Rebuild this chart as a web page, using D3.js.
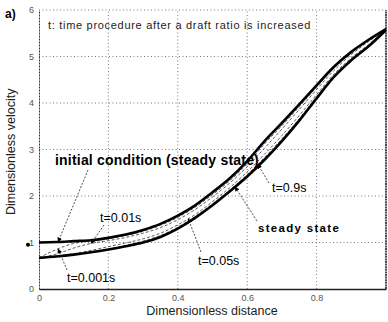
<!DOCTYPE html>
<html>
<head>
<meta charset="utf-8">
<script src="https://cdn.jsdelivr.net/npm/d3@7"></script>
<style>
  body { margin: 0; background: #fff; }
  svg { font-family: Arial, "Liberation Sans", sans-serif; }
</style>
</head>
<body>
<svg id="chart" width="388" height="322"></svg>
<script>
const distance = [0, 0.05, 0.1, 0.15, 0.2, 0.25, 0.3, 0.35, 0.4, 0.45, 0.5, 0.55, 0.6, 0.65, 0.7, 0.75, 0.8, 0.85, 0.9, 0.95, 1.0];
const initialCondition = [1.00, 1.01, 1.03, 1.05, 1.10, 1.17, 1.27, 1.40, 1.58, 1.80, 2.08, 2.38, 2.75, 3.18, 3.57, 3.97, 4.38, 4.78, 5.10, 5.36, 5.59];
const t0001 = [0.67, 0.85, 0.98, 1.03, 1.08, 1.15, 1.24, 1.37, 1.54, 1.76, 2.03, 2.33, 2.69, 3.12, 3.51, 3.92, 4.34, 4.75, 5.08, 5.34, 5.59];
const t001 = [0.67, 0.75, 0.88, 0.98, 1.04, 1.11, 1.20, 1.32, 1.49, 1.71, 1.98, 2.28, 2.63, 3.03, 3.44, 3.86, 4.29, 4.70, 5.04, 5.32, 5.58];
const t005 = [0.67, 0.71, 0.76, 0.83, 0.91, 0.99, 1.08, 1.20, 1.38, 1.60, 1.88, 2.18, 2.52, 2.90, 3.30, 3.73, 4.18, 4.62, 4.97, 5.26, 5.58];
const t09 = [0.67, 0.70, 0.75, 0.80, 0.86, 0.94, 1.03, 1.15, 1.33, 1.56, 1.83, 2.13, 2.46, 2.83, 3.23, 3.66, 4.13, 4.58, 4.94, 5.24, 5.57];
const steadyState = [0.67, 0.70, 0.74, 0.79, 0.85, 0.92, 1.00, 1.12, 1.30, 1.53, 1.80, 2.10, 2.42, 2.78, 3.18, 3.62, 4.10, 4.56, 4.92, 5.22, 5.57];
const xTicks = [0, 0.2, 0.4, 0.6, 0.8, 1.0];
const xTickLabels = ['0', '0.2', '0.4', '0.6', '0.8', ''];
const yTicks = [0, 1, 2, 3, 4, 5, 6];
const yTickLabels = ['0', '1', '2', '3', '4', '5', '6'];

const svg = d3.select('#chart');
const margin = {top: 10, right: 2, bottom: 33, left: 39};
const width = 388 - margin.left - margin.right;
const height = 322 - margin.top - margin.bottom;

const x = d3.scaleLinear().domain([0, 1]).range([margin.left, margin.left + width]);
const y = d3.scaleLinear().domain([0, 6]).range([margin.top + height, margin.top]);

// dotted grid
svg.append('g').selectAll('line').data(xTicks.slice(1, -1)).join('line')
  .attr('x1', d => x(d)).attr('x2', d => x(d))
  .attr('y1', y(0)).attr('y2', y(6))
  .attr('stroke', '#555').attr('stroke-width', 0.8).attr('stroke-dasharray', '1,2.5');
svg.append('g').selectAll('line').data(yTicks.slice(1)).join('line')
  .attr('x1', x(0)).attr('x2', x(1))
  .attr('y1', d => y(d)).attr('y2', d => y(d))
  .attr('stroke', '#555').attr('stroke-width', 0.8).attr('stroke-dasharray', '1,2.5');

const xAxis = d3.axisBottom(x).tickValues(xTicks).tickSize(0).tickPadding(6)
  .tickFormat((d, i) => xTickLabels[i]);
const yAxis = d3.axisLeft(y).tickValues(yTicks).tickSize(0).tickPadding(5)
  .tickFormat((d, i) => yTickLabels[i]);

let gx = svg.append('g').attr('transform', 'translate(0,' + y(0) + ')').call(xAxis);
let gy = svg.append('g').attr('transform', 'translate(' + x(0) + ',0)').call(yAxis);
gx.select('.domain').attr('stroke', '#222').attr('stroke-width', 1.4);
gy.select('.domain').attr('stroke', '#333').attr('stroke-width', 1).attr('stroke-dasharray', '2,1');
gx.selectAll('text').attr('font-size', 9).attr('fill', '#555');
gy.selectAll('text').attr('font-size', 9).attr('fill', '#555');

// right border
svg.append('line')
  .attr('x1', x(1)).attr('x2', x(1)).attr('y1', y(0)).attr('y2', y(6))
  .attr('stroke', '#222').attr('stroke-width', 1.6).attr('stroke-dasharray', '2,0.6');

const line = d3.line().x((d, i) => x(distance[i])).y(d => y(d)).curve(d3.curveMonotoneX);

const thin = [t0001, t001, t005, t09];
svg.append('g').selectAll('path').data(thin).join('path')
  .attr('d', line)
  .attr('fill', 'none').attr('stroke', '#333').attr('stroke-width', 0.8)
  .attr('stroke-dasharray', '3,2');

svg.append('g').selectAll('path').data([initialCondition, steadyState]).join('path')
  .attr('d', line)
  .attr('fill', 'none').attr('stroke', '#000').attr('stroke-width', 2.6);

function valueAt(series, xv) {
  let i = d3.bisectLeft(distance, xv);
  if (i <= 0) return series[0];
  let t = (xv - distance[i - 1]) / (distance[i] - distance[i - 1]);
  return series[i - 1] + t * (series[i] - series[i - 1]);
}

const notes = [
  {text: 'initial condition (steady state)', series: initialCondition, at: 0.055, tx: 55, ty: 165, fx: 88, fy: 170, weight: 'bold', size: 14, spacing: 0.2},
  {text: 't=0.01s', series: t001, at: 0.15, tx: 100, ty: 222, fx: 104, fy: 225, weight: 'normal', size: 12.5, spacing: 0},
  {text: 't=0.001s', series: t0001, at: 0.055, tx: 67, ty: 282, fx: 67, fy: 270, weight: 'normal', size: 12.5, spacing: 0},
  {text: 't=0.05s', series: t005, at: 0.43, tx: 198, ty: 265, fx: 201, fy: 252, weight: 'normal', size: 12.5, spacing: 0},
  {text: 't=0.9s', series: t09, at: 0.63, tx: 272, ty: 192, fx: 269, fy: 183, weight: 'normal', size: 12.5, spacing: 0},
  {text: 'steady state', series: steadyState, at: 0.565, tx: 258, ty: 232, fx: 257, fy: 221, weight: 'bold', size: 11.5, spacing: 1.3}
];

svg.append('defs').append('marker')
  .attr('id', 'tri').attr('viewBox', '0 0 10 10').attr('refX', 9).attr('refY', 5)
  .attr('markerWidth', 6).attr('markerHeight', 6).attr('orient', 'auto')
  .append('path').attr('d', 'M0,0L10,5L0,10z').attr('fill', '#000');

let g = svg.append('g');
notes.forEach(function(n) {
  let px = x(n.at), py = y(valueAt(n.series, n.at));
  g.append('line')
    .attr('x1', n.fx).attr('y1', n.fy).attr('x2', px).attr('y2', py)
    .attr('stroke', '#222').attr('stroke-width', 0.8).attr('stroke-dasharray', '2,1.5')
    .attr('marker-end', 'url(#tri)');
  g.append('text')
    .attr('x', n.tx).attr('y', n.ty)
    .attr('font-size', n.size).attr('font-weight', n.weight)
    .attr('letter-spacing', n.spacing)
    .text(n.text);
});

svg.append('circle').attr('cx', 28).attr('cy', y(0.95)).attr('r', 2).attr('fill', '#000');

svg.append('text').attr('x', 5).attr('y', 18)
  .attr('font-size', 12).attr('font-weight', 'bold').text('a)');
svg.append('text').attr('x', 48).attr('y', 29)
  .attr('font-size', 11).attr('fill', '#222').attr('letter-spacing', 0.7)
  .text('t: time procedure after a draft ratio is increased');

svg.append('text').attr('x', 212).attr('y', 315)
  .attr('text-anchor', 'middle').attr('font-size', 12.5).attr('fill', '#222')
  .text('Dimensionless distance');
svg.append('text')
  .attr('transform', 'translate(15,' + y(2.95) + ') rotate(-90)')
  .attr('text-anchor', 'middle').attr('font-size', 12.5).attr('fill', '#222')
  .text('Dimensionless velocity');
</script>
</body>
</html>
